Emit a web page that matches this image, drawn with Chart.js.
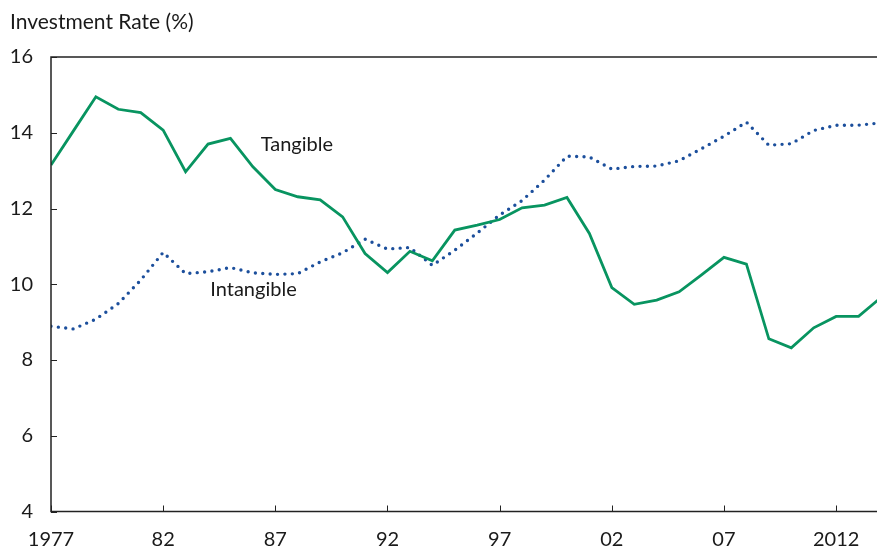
<!DOCTYPE html>
<html>
<head>
<meta charset="utf-8">
<script src="https://cdn.jsdelivr.net/npm/chart.js@4.4.1/dist/chart.umd.min.js"></script>
<style>
  html, body { margin: 0; padding: 0; background: #ffffff; overflow: hidden; }
  #wrap { width: 877px; height: 550px; overflow: hidden; position: relative; }
  canvas { display: block; }
</style>
</head>
<body>
<div id="wrap"><canvas id="c" width="900" height="550"></canvas></div>
<script>
// ---- data ----
const years = [1977,1978,1979,1980,1981,1982,1983,1984,1985,1986,1987,1988,1989,1990,1991,1992,1993,1994,1995,1996,1997,1998,1999,2000,2001,2002,2003,2004,2005,2006,2007,2008,2009,2010,2011,2012,2013,2014];
const tangible = [13.15,14.05,14.95,14.62,14.53,14.07,12.97,13.70,13.85,13.10,12.50,12.31,12.23,11.78,10.81,10.31,10.87,10.62,11.43,11.56,11.71,12.02,12.09,12.29,11.34,9.91,9.47,9.58,9.80,10.25,10.71,10.53,8.56,8.32,8.85,9.15,9.15,9.65];
const intangible = [8.89,8.82,9.08,9.49,10.11,10.84,10.28,10.33,10.44,10.30,10.26,10.28,10.59,10.83,11.19,10.93,10.97,10.50,10.90,11.35,11.83,12.21,12.75,13.38,13.36,13.04,13.11,13.12,13.26,13.58,13.91,14.28,13.67,13.71,14.06,14.20,14.20,14.26];
const xTickYears = [1977,1982,1987,1992,1997,2002,2007,2012];
const xTickLabels = ["1977","82","87","92","97","02","07","2012"];
const yTicks = [4,6,8,10,12,14,16];
const yAxisTitle = "Investment Rate (%)";
const seriesLabels = [
  { text: "Tangible", x: 1986.35, y: 13.51 },
  { text: "Intangible", x: 1984.1, y: 9.68 }
];

const FONT = "Lato, 'Noto Sans', sans-serif";
const TEXT = "#1a1a1a";
const AXIS = "#222222";

const boxPlugin = {
  id: 'boxAndTicks',
  afterDraw(chart) {
    const ctx = chart.ctx, a = chart.chartArea;
    const xs = chart.scales.x, ys = chart.scales.y;
    ctx.save();
    ctx.strokeStyle = AXIS;
    ctx.lineWidth = 1.5;
    ctx.strokeRect(a.left, a.top, a.right - a.left, a.bottom - a.top);
    ctx.lineWidth = 1;
    ctx.beginPath();
    yTicks.forEach(v => {
      const py = Math.round(ys.getPixelForValue(v)) + 0.5;
      ctx.moveTo(a.left, py); ctx.lineTo(a.left + 6, py);
    });
    xTickYears.forEach(v => {
      const px = Math.round(xs.getPixelForValue(v)) + 0.5;
      ctx.moveTo(px, a.bottom); ctx.lineTo(px, a.bottom - 6);
    });
    ctx.stroke();
    // title
    ctx.fillStyle = TEXT;
    ctx.font = "21px " + FONT;
    ctx.textBaseline = "alphabetic";
    ctx.textAlign = "left";
    ctx.fillText(yAxisTitle, 10, 28.5);
    // series labels
    ctx.font = "20px " + FONT;
    seriesLabels.forEach(l => {
      ctx.fillText(l.text, xs.getPixelForValue(l.x), ys.getPixelForValue(l.y));
    });
    ctx.restore();
  }
};

new Chart(document.getElementById('c'), {
  type: 'line',
  data: {
    datasets: [
      {
        label: 'Tangible',
        data: years.map((y, i) => ({ x: y, y: tangible[i] })),
        borderColor: '#089460',
        borderWidth: 2.8,
        pointRadius: 0,
        tension: 0,
        fill: false
      },
      {
        label: 'Intangible',
        data: years.map((y, i) => ({ x: y, y: intangible[i] })),
        borderColor: '#1c4f9c',
        borderWidth: 3.4,
        borderDash: [0, 7.4],
        borderCapStyle: 'round',
        pointRadius: 0,
        tension: 0,
        fill: false
      }
    ]
  },
  options: {
    responsive: false,
    animation: false,
    events: [],
    layout: { padding: { top: 57, right: 19, left: 0, bottom: 0 } },
    plugins: { legend: { display: false }, tooltip: { enabled: false }, title: { display: false } },
    scales: {
      x: {
        type: 'linear',
        min: 1977,
        max: 2014,
        afterBuildTicks(scale) { scale.ticks = xTickYears.map(v => ({ value: v })); },
        afterFit(scale) { scale.height = 38.5; },
        grid: { display: false, drawTicks: false },
        border: { display: false },
        ticks: {
          autoSkip: false,
          maxRotation: 0,
          padding: 16,
          color: TEXT,
          font: { family: FONT, size: 20 },
          callback: (v) => { const i = xTickYears.indexOf(v); return i >= 0 ? xTickLabels[i] : ''; }
        }
      },
      y: {
        min: 4,
        max: 16,
        afterBuildTicks(scale) { scale.ticks = yTicks.map(v => ({ value: v })); },
        afterFit(scale) { scale.width = 51; },
        grid: { display: false, drawTicks: false },
        border: { display: false },
        ticks: {
          padding: 18,
          color: TEXT,
          font: { family: FONT, size: 20 }
        }
      }
    }
  },
  plugins: [boxPlugin]
});
</script>
</body>
</html>
